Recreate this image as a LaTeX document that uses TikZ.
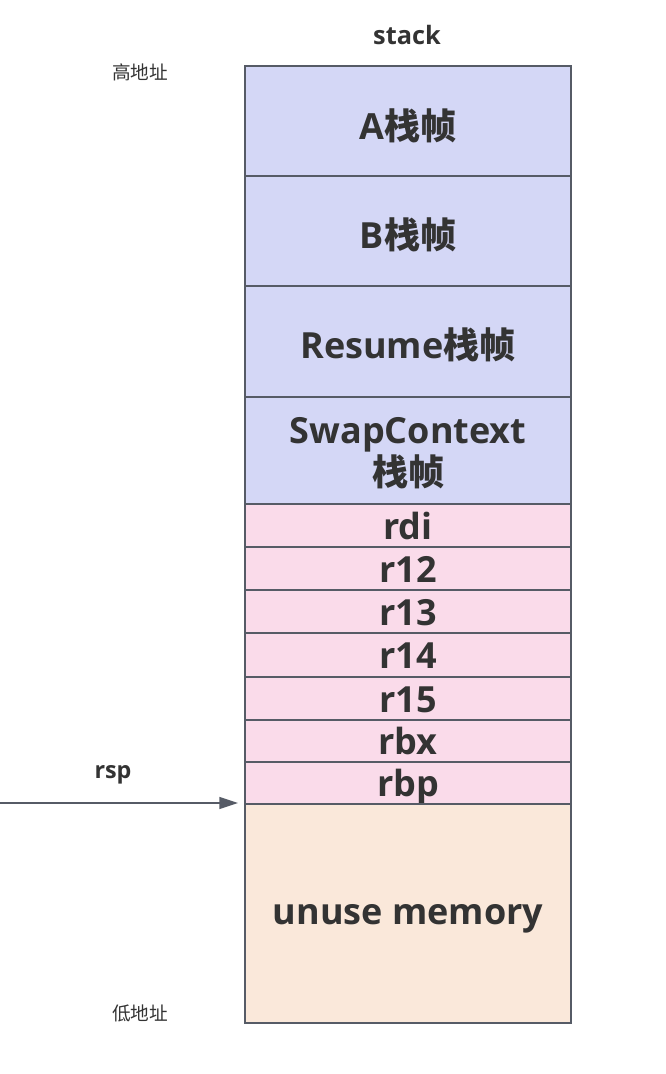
\documentclass[tikz,border=0pt]{standalone}
\usepackage{fontspec}
\setmainfont{Open Sans}
\newfontfamily\cjk{Noto Sans CJK SC}
\usetikzlibrary{arrows.meta}
\definecolor{blueA}{HTML}{D4D7F6}
\definecolor{pinkA}{HTML}{FADBEA}
\definecolor{peachA}{HTML}{FAE8DA}
\definecolor{edgeA}{HTML}{565B66}
\definecolor{txtA}{HTML}{333333}
\newcommand{\zh}[1]{{\cjk\bfseries #1}}
\newcommand{\lowered}[2]{\raisebox{-#1}[\height][\depth]{#2}}
\tikzset{
  cell/.style={draw=edgeA, line width=1.5pt, minimum width=244.5pt, inner sep=0pt, anchor=north west, text=txtA, font=\bfseries\fontsize{27}{32}\selectfont, align=center},
  bluecell/.style={cell, fill=blueA},
  pinkcell/.style={cell, fill=pinkA, text height=20.5pt, text depth=0pt},
  peachcell/.style={cell, fill=peachA},
  small/.style={text=txtA, font=\bfseries\fontsize{18}{20}\selectfont},
  cjksmall/.style={text=txtA, font=\cjk\fontsize{14}{16}\selectfont},
}
\begin{document}
\begin{tikzpicture}[x=0.75pt,y=-0.75pt]
\useasboundingbox (0,0) rectangle (666,1074);
\node[bluecell, minimum height=82.5pt] (a) at (244,65) {\lowered{3.5pt}{A\zh{栈帧}}};
\node[bluecell, minimum height=82.5pt] (b) at (244,175) {\lowered{3pt}{B\zh{栈帧}}};
\node[bluecell, minimum height=83.25pt] (res) at (244,285) {\lowered{2.5pt}{Resume\zh{栈帧}}};
\node[bluecell, minimum height=80.25pt] (swap) at (244,396) {\lowered{2pt}{SwapContext}\\\lowered{2pt}{\zh{栈帧}}};
\node[pinkcell, minimum height=32.25pt] (rdi) at (244,503) {rdi};
\node[pinkcell, minimum height=32.25pt] (r12) at (244,546) {r12};
\node[pinkcell, minimum height=32.25pt] (r13) at (244,589) {r13};
\node[pinkcell, minimum height=33pt] (r14) at (244,632) {r14};
\node[pinkcell, minimum height=32.25pt] (r15) at (244,676) {r15};
\node[pinkcell, minimum height=31.5pt] (rbx) at (244,719) {rbx};
\node[pinkcell, minimum height=31.5pt] (rbp) at (244,761) {rbp};
\node[peachcell, minimum height=164.25pt] (unuse) at (244,803) {\lowered{4pt}{unuse memory}};
\node[small, font=\bfseries\fontsize{19}{21}\selectfont] (stack) at (407,35) {stack};
\node[cjksmall] (high) at (140,72) {高地址};
\node[cjksmall] (low) at (140,1013) {低地址};
\node[small, font=\bfseries\fontsize{17.5}{20}\selectfont] (rsp) at (113,775) {rsp};
\coordinate (rspstart) at (0,803);
\draw[edgeA, line width=1.1pt, -{Triangle[length=14pt,width=9pt]}, shorten >=4.5pt] (rspstart) -- (unuse.north west);
\end{tikzpicture}
\end{document}
